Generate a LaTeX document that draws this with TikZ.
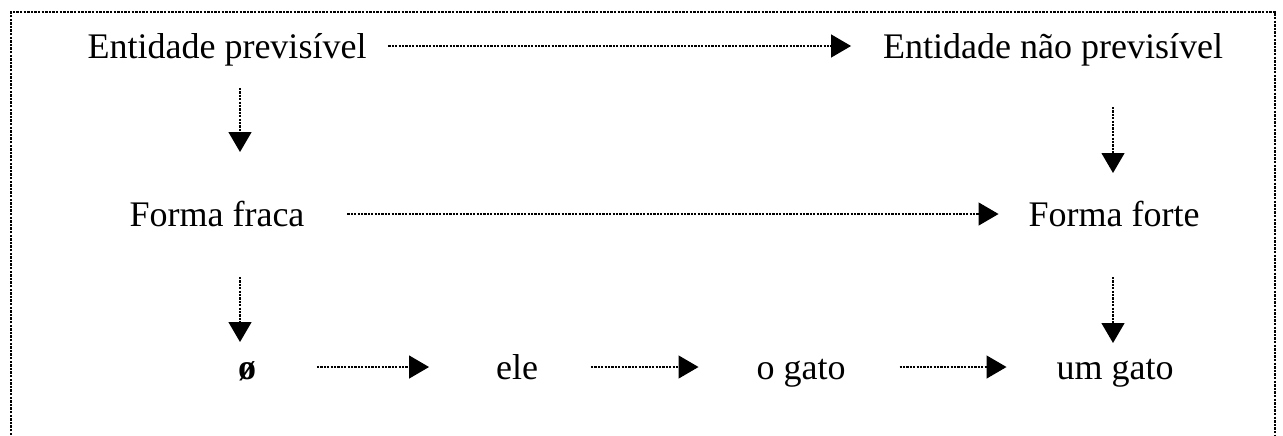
\documentclass[tikz,border=0pt]{standalone}
\usepackage{fontspec}
\setmainfont{Liberation Serif}
\usetikzlibrary{arrows.meta}
\begin{document}
\begin{tikzpicture}[x=0.5pt,y=-0.5pt,
  lbl/.style={inner sep=0pt, outer sep=0pt, text height=12pt, text depth=0pt,
    font=\fontsize{18}{20}\selectfont, anchor=base},
  arr/.style={line width=0.65pt, dash pattern=on 1.1pt off 0.6pt,
    -{Triangle[length=10pt,width=11.5pt]}},
  frame/.style={line width=1.1pt, dash pattern=on 1.2pt off 0.6pt}]
\useasboundingbox (0,0) rectangle (1283,435);
% open frame
\coordinate (fbl) at (11,435);
\coordinate (ftl) at (11,12);
\coordinate (ftr) at (1275,12);
\coordinate (fbr) at (1275,435);
\draw[frame] (fbl) -- (ftl) -- (ftr) -- (fbr);
% texts
\node[lbl] (e1) at (227,58) {Entidade previsível};
\node[lbl] (e2) at (1053,58) {Entidade não previsível};
\node[lbl] (ff) at (217,226) {Forma fraca};
\node[lbl] (ft) at (1114,226) {Forma forte};
\node[lbl] (z) at (247,379) {\textbf{ø}};
\node[lbl] (ele) at (517,379) {ele};
\node[lbl] (og) at (801,379) {o gato};
\node[lbl] (ug) at (1115,379) {um gato};
% columns of the vertical arrows
\coordinate (cl) at (240,0);
\coordinate (cr) at (1113,0);
% horizontal arrows
\draw[arr, shorten <=11pt, shorten >=16pt] (e1.east) -- (e2.west);
\draw[arr, shorten <=21.5pt, shorten >=15pt] (ff.east) -- (ft.west);
\draw[arr, shorten <=30.5pt, shorten >=33.5pt] (z.east) -- (ele.west);
\draw[arr, shorten <=26.5pt, shorten >=29pt] (ele.east) -- (og.west);
\draw[arr, shorten <=27pt, shorten >=25pt] (og.east) -- (ug.west);
% vertical arrows
\draw[arr, shorten <=15pt, shorten >=25pt] (e1.south -| cl) -- (ff.north -| cl);
\draw[arr, shorten <=24.5pt, shorten >=14.5pt] (e2.south -| cr) -- (ft.north -| cr);
\draw[arr, shorten <=25.5pt, shorten >=6.5pt] (ff.south -| cl) -- (z.north -| cl);
\draw[arr, shorten <=25.5pt, shorten >=6pt] (ft.south -| cr) -- (ug.north -| cr);
\end{tikzpicture}
\end{document}
